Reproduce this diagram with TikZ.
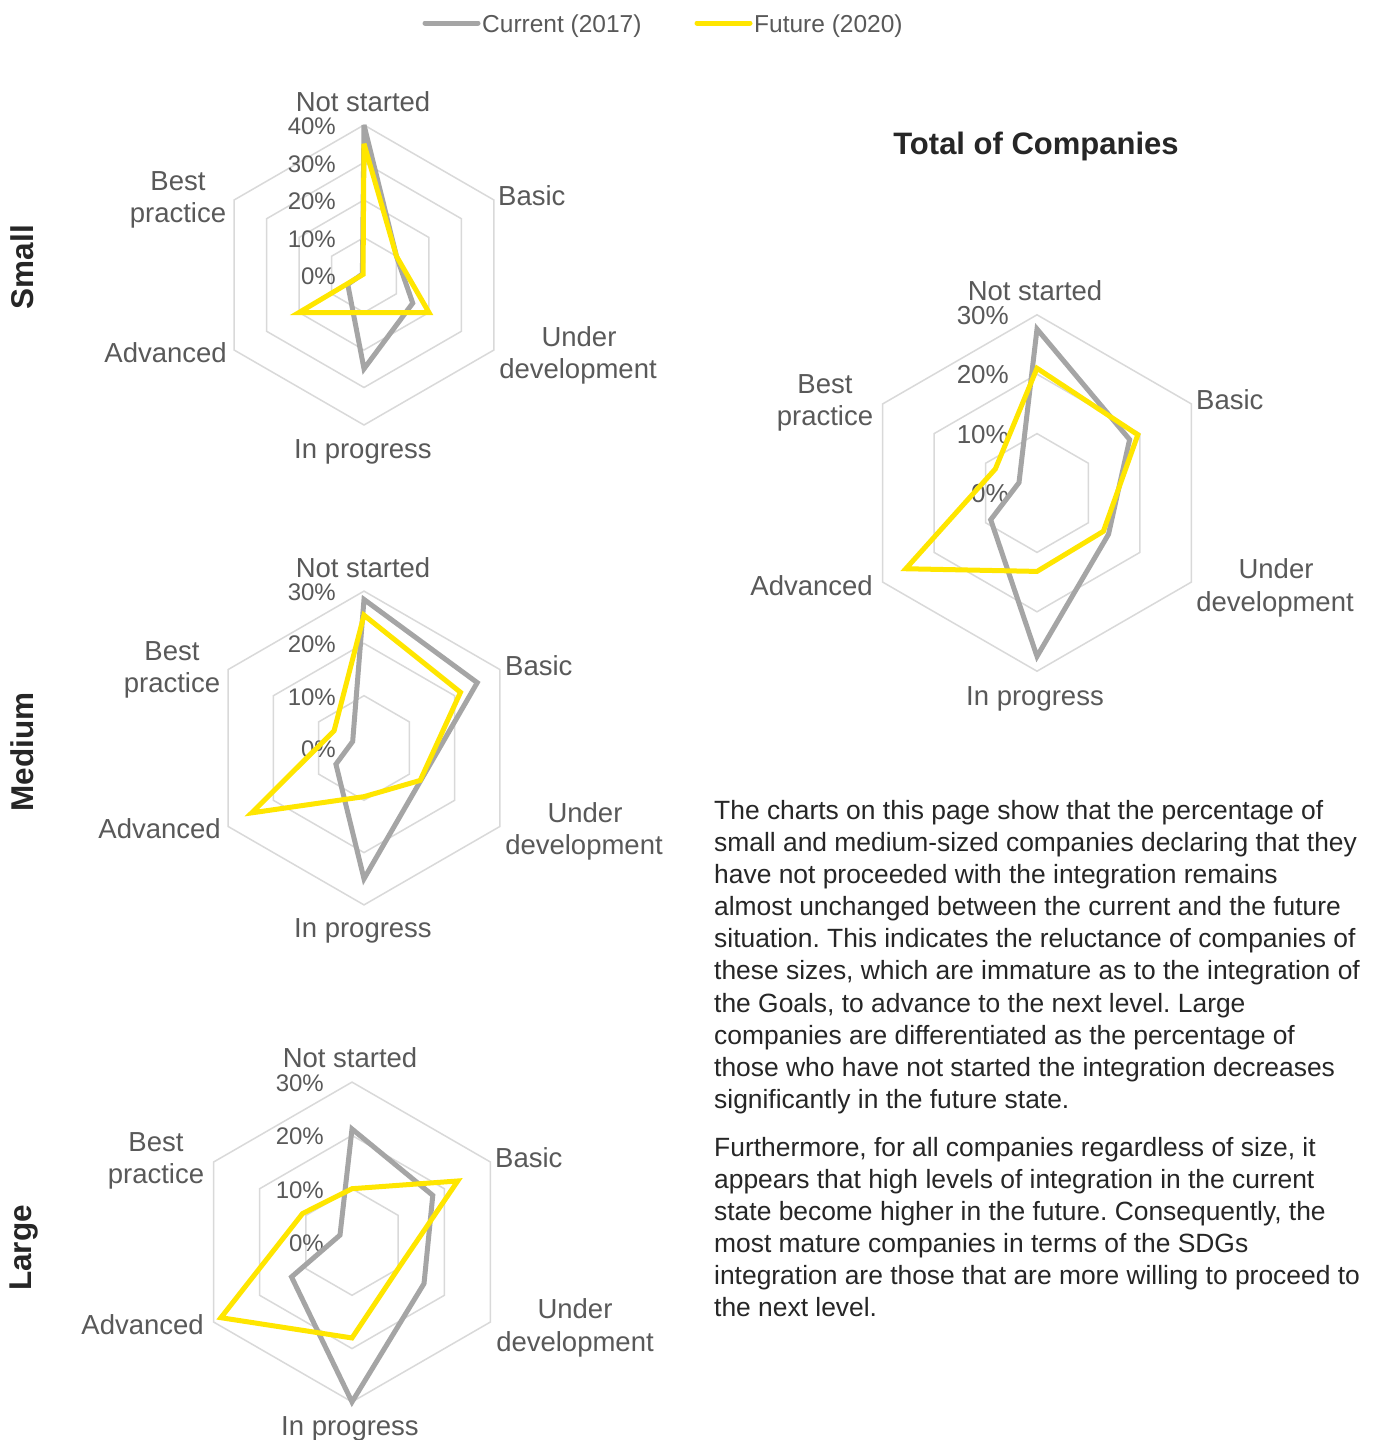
\documentclass[tikz,border=0pt]{standalone}
\usepackage{fontspec}
\setmainfont{Liberation Sans}
\frenchspacing
\definecolor{curgray}{HTML}{A5A5A5}
\definecolor{futyel}{HTML}{FFE600}
\definecolor{gridc}{HTML}{D9D9D9}
\definecolor{lblc}{HTML}{595959}
\definecolor{bodyc}{HTML}{262626}
\tikzset{
  gridline/.style={draw=gridc, line width=1.5pt},
  curline/.style={draw=curgray, line width=5pt, line join=miter, miter limit=6},
  futline/.style={draw=futyel, line width=5pt, line join=miter, miter limit=6},
  lbl/.style={inner sep=0pt, yshift=-6pt, text height=0.716em, text depth=0pt, text=lblc, font=\fontsize{27.5}{32}\selectfont},
  pct/.style={lbl, anchor=east, font=\fontsize{24}{28}\selectfont},
  pctb/.style={lbl, anchor=east, font=\fontsize{26}{30}\selectfont},
  body/.style={inner sep=0pt, yshift=-6pt, text height=0.716em, text depth=0pt, text=bodyc, anchor=west, font=\fontsize{26.4}{32}\selectfont},
  side/.style={inner sep=0pt, rotate=90, text=bodyc, font=\fontsize{31.5}{36}\selectfont\bfseries},
  legline/.style={line width=5pt, line cap=round}
}
% grid + percentage labels
\newcommand{\radargrid}[6]{%
  \coordinate (#1c) at (#2,#3);
  \foreach \r in {1,...,#5}{
    \draw[gridline] ([shift={(#2,#3)}]-90:\r*#4)
      -- ([shift={(#2,#3)}]-30:\r*#4)
      -- ([shift={(#2,#3)}]30:\r*#4)
      -- ([shift={(#2,#3)}]90:\r*#4)
      -- ([shift={(#2,#3)}]150:\r*#4)
      -- ([shift={(#2,#3)}]210:\r*#4) -- cycle;
  }
  \foreach \r in {0,...,#5}{
    \pgfmathtruncatemacro\pv{\r*10}
    \node[#6] (#1p\r) at ([shift={(#2,#3)}] -28, -\r*#4) {\pv\%};
  }
}
% data series
\newcommand{\series}[6]{%
  \foreach \v [count=\k from 0] in {#5}{
    \coordinate (#1\k) at ([shift={(#2,#3)}] -90+60*\k:\v*#4/10);
  }
  \draw[#6] (#10) -- (#11) -- (#12) -- (#13) -- (#14) -- (#15) -- cycle;
}
\begin{document}
\begin{tikzpicture}[x=1pt,y=-1pt]
\useasboundingbox (0,0) rectangle (1373,1440);
\fill[white] (0,0) rectangle (1373,1440);

% ---------- legend ----------
\coordinate (lg1a) at (425,23);
\coordinate (lg1b) at (478,23);
\draw[legline, curgray] (lg1a) -- (lg1b);
\node[lbl, anchor=west, font=\fontsize{24.5}{28}\selectfont] (lg1t) at (482,23) {Current (2017)};
\coordinate (lg2a) at (697,23);
\coordinate (lg2b) at (750,23);
\draw[legline, futyel] (lg2a) -- (lg2b);
\node[lbl, anchor=west, font=\fontsize{24.5}{28}\selectfont] (lg2t) at (754,23) {Future (2020)};

% ---------- side labels ----------
\node[side] (sSmall) at (22,267) {Small};
\node[side] (sMedium) at (22,752) {Medium};
\node[side] (sLarge) at (24,1248) {Large};

% ---------- Small chart ----------
\radargrid{S}{364}{275}{37.5}{4}{pct}
\series{Sg}{364}{275}{37.5}{40,10,15,25,5,0.5}{curline}
\series{Sy}{364}{275}{37.5}{35,10,20,10,20,0.3}{futline}
\node[lbl] (Sns) at (363,102) {Not started};
\node[lbl, anchor=west] (Sba) at (498,196) {Basic};
\node[lbl] (Sud1) at (579,337) {Under};
\node[lbl] (Sud2) at (578,369) {development};
\node[lbl] (Sip) at (363,449) {In progress};
\node[lbl, anchor=east] (Sad) at (227,353) {Advanced};
\node[lbl] (Sbp1) at (178,181) {Best};
\node[lbl] (Sbp2) at (178,213) {practice};

% ---------- Medium chart ----------
\radargrid{M}{364}{748}{52.3}{3}{pct}
\series{Mg}{364}{748}{52.3}{28.4,25,12.5,25,6.2,2.5}{curline}
\series{My}{364}{748}{52.3}{25.4,21.3,12.4,9.3,24.8,6.6}{futline}
\node[lbl] (Mns) at (363,568) {Not started};
\node[lbl, anchor=west] (Mba) at (505,666) {Basic};
\node[lbl] (Mud1) at (585,813) {Under};
\node[lbl] (Mud2) at (584,845) {development};
\node[lbl] (Mip) at (363,928) {In progress};
\node[lbl, anchor=east] (Mad) at (221,829) {Advanced};
\node[lbl] (Mbp1) at (172,651) {Best};
\node[lbl] (Mbp2) at (172,683) {practice};

% ---------- Large chart ----------
\radargrid{L}{352}{1242}{53.3}{3}{pct}
\series{Lg}{352}{1242}{53.3}{21.2,17.5,15.6,30,13.1,2.6}{curline}
\series{Ly}{352}{1242}{53.3}{10,22.9,10,18,28.4,10.7}{futline}
\node[lbl] (Lns) at (350,1058) {Not started};
\node[lbl, anchor=west] (Lba) at (495,1158) {Basic};
\node[lbl] (Lud1) at (575,1309) {Under};
\node[lbl] (Lud2) at (575,1342) {development};
\node[lbl] (Lip) at (350,1426) {In progress};
\node[lbl, anchor=east] (Lad) at (204,1325) {Advanced};
\node[lbl] (Lbp1) at (156,1142) {Best};
\node[lbl] (Lbp2) at (156,1174) {practice};

% ---------- Total chart ----------
\node[inner sep=0pt, yshift=-7pt, text height=0.716em, text depth=0pt, text=bodyc, font=\fontsize{31}{36}\selectfont\bfseries] (Ttitle) at (1036,144) {Total of Companies};
\radargrid{T}{1037}{493}{59.4}{3}{pctb}
\series{Tg}{1037}{493}{59.4}{27.6,18,13.9,27.5,9,3.5}{curline}
\series{Ty}{1037}{493}{59.4}{21,19.6,12.9,13.2,25.5,8.1}{futline}
\node[lbl] (Tns) at (1035,291) {Not started};
\node[lbl, anchor=west] (Tba) at (1196,400) {Basic};
\node[lbl] (Tud1) at (1276,569) {Under};
\node[lbl] (Tud2) at (1275,602) {development};
\node[lbl] (Tip) at (1035,696) {In progress};
\node[lbl, anchor=east] (Tad) at (873,586) {Advanced};
\node[lbl] (Tbp1) at (825,384) {Best};
\node[lbl] (Tbp2) at (825,416) {practice};

% ---------- body text ----------
\node[body] (b1) at (714,810) {The charts on this page show that the percentage of};
\node[body] (b2) at (714,842) {small and medium-sized companies declaring that they};
\node[body] (b3) at (714,874) {have not proceeded with the integration remains};
\node[body] (b4) at (714,906) {almost unchanged between the current and the future};
\node[body] (b5) at (714,938) {situation. This indicates the reluctance of companies of};
\node[body] (b6) at (714,970) {these sizes, which are immature as to the integration of};
\node[body] (b7) at (714,1003) {the Goals, to advance to the next level. Large};
\node[body] (b8) at (714,1035) {companies are differentiated as the percentage of};
\node[body] (b9) at (714,1067) {those who have not started the integration decreases};
\node[body] (b10) at (714,1099) {significantly in the future state.};
\node[body] (c1) at (714,1147) {Furthermore, for all companies regardless of size, it};
\node[body] (c2) at (714,1179) {appears that high levels of integration in the current};
\node[body] (c3) at (714,1211) {state become higher in the future. Consequently, the};
\node[body] (c4) at (714,1243) {most mature companies in terms of the SDGs};
\node[body] (c5) at (714,1275) {integration are those that are more willing to proceed to};
\node[body] (c6) at (714,1307) {the next level.};
\end{tikzpicture}
\end{document}
